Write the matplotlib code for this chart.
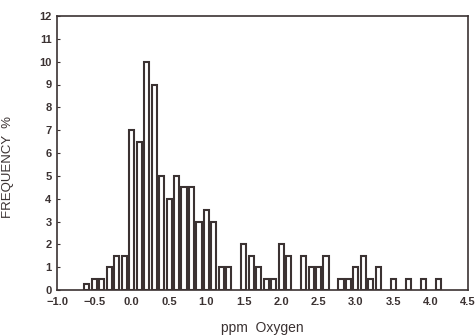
import matplotlib
matplotlib.use("Agg")
import matplotlib.pyplot as plt
import numpy as np

# Bin centers (ppm Oxygen) and frequencies (%)
bin_centers = [round(-0.6 + 0.1 * i, 1) for i in range(48)]
frequency = [0.25, 0.5, 0.5, 1.0, 1.5, 1.5,
             7.0, 6.5, 10.0, 9.0, 5.0, 4.0, 5.0, 4.5, 4.5, 3.0,
             3.5, 3.0, 1.0, 1.0, 0.0, 2.0, 1.5, 1.0, 0.5, 0.5,
             2.0, 1.5, 0.0, 1.5, 1.0, 1.0, 1.5, 0.0, 0.5, 0.5,
             1.0, 1.5, 0.5, 1.0, 0.0, 0.5, 0.0, 0.5, 0.0, 0.5,
             0.0, 0.5]
xticks = [-1.0, -0.5, 0.0, 0.5, 1.0, 1.5, 2.0, 2.5, 3.0, 3.5, 4.0, 4.5]
yticks = list(range(0, 13))

ink = "#3b3232"
plt.rcParams['font.family'] = ['Liberation Sans', 'DejaVu Sans']

fig = plt.figure(figsize=(4.76, 3.36), dpi=100)
ax = fig.add_axes([57/476, 1 - 290/336, (468 - 57)/476, (290 - 16)/336])

xs = [x for x, f in zip(bin_centers, frequency) if f > 0]
fs = [f for f in frequency if f > 0]
ax.bar(xs, fs, width=0.068, color="white", edgecolor=ink, linewidth=1.5,
       align="center", zorder=2)

ax.set_xlim(-1.0, 4.5)
ax.set_ylim(0, 12)
ax.set_xticks(xticks)
ax.set_xticklabels([f"{t:.1f}".replace("-", "\u2212") for t in xticks])
ax.set_yticks(yticks)
ax.tick_params(axis="both", direction="in", length=2.5, width=0.8, colors=ink,
               labelsize=8, pad=4)
ax.tick_params(axis="x", length=0, pad=5)
for lab in ax.get_xticklabels() + ax.get_yticklabels():
    lab.set_fontweight("bold")
    lab.set_color(ink)
for s in ax.spines.values():
    s.set_color(ink)
    s.set_linewidth(1.2)

ax.set_xlabel("ppm  Oxygen", fontsize=10, color=ink, labelpad=10)
ax.set_ylabel("FREQUENCY  %", fontsize=9.5, color=ink, labelpad=14)
ax.yaxis.set_label_coords(-0.105, 0.45)

fig.savefig("out.png", dpi=100, facecolor="white")
